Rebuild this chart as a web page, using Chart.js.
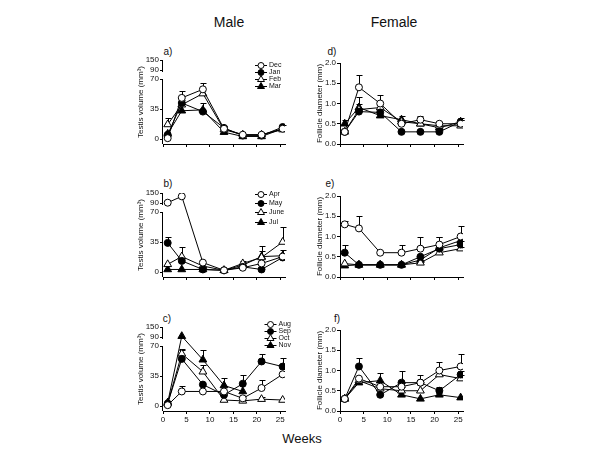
<!DOCTYPE html>
<html><head><meta charset="utf-8">
<script src="https://cdn.jsdelivr.net/npm/chart.js@4.4.0/dist/chart.umd.min.js"></script>
<style>
html,body{margin:0;padding:0;background:#fff;}
body{width:600px;height:450px;position:relative;overflow:hidden;font-family:"Liberation Sans",Arial,sans-serif;color:#111;}
canvas{position:absolute;}
.t{position:absolute;white-space:nowrap;transform:translate(-50%,-50%);}
</style></head><body>
<div class="t" style="left:229px;top:22px;font-size:14px;">Male</div>
<div class="t" style="left:394px;top:22px;font-size:14px;">Female</div>
<div class="t" style="left:302px;top:438px;font-size:13px;">Weeks</div>
<div class="t" style="left:168px;top:51px;font-size:10px;">a)</div>
<div class="t" style="left:168px;top:183px;font-size:10px;">b)</div>
<div class="t" style="left:167px;top:318px;font-size:10px;">c)</div>
<div class="t" style="left:332px;top:51px;font-size:10px;">d)</div>
<div class="t" style="left:330px;top:183px;font-size:10px;">e)</div>
<div class="t" style="left:337px;top:318px;font-size:10px;">f)</div>
<canvas id="ca" width="161" height="110" style="left:136px;top:50px"></canvas>
<canvas id="cb" width="161" height="110" style="left:136px;top:183px"></canvas>
<canvas id="cc" width="161" height="110" style="left:136px;top:317px"></canvas>
<canvas id="cd" width="160" height="107" style="left:315px;top:53px"></canvas>
<canvas id="ce" width="160" height="107" style="left:315px;top:186px"></canvas>
<canvas id="cf" width="160" height="107" style="left:315px;top:320px"></canvas>
<script>
// ---------- DATA ----------
const weeks = [1, 4, 8.5, 13, 17, 21, 25.5];
const xTicks = [0, 5, 10, 15, 20, 25];
const maleYTicks = [0, 35, 70, 90, 150];
const femaleYTicks = [0, 0.5, 1.0, 1.5, 2.0];

const labelsA = ['Dec', 'Jan', 'Feb', 'Mar'];
const labelsB = ['Apr', 'May', 'June', 'Jul'];
const labelsC = ['Aug', 'Sep', 'Oct', 'Nov'];

// a) male testis volume (mm3)
const aDec = [1, 48, 58, 12, 5, 5, 12];
const aJan = [5, 42, 32, 13, 4, 4, 14];
const aFeb = [17, 40, 53, 11, 5, 5, 11];
const aMar = [6, 33, 34, 8, 3, 3, 12];
const aDecErr = [0, 8, 7, 3, 0, 0, 0];
const aJanErr = [0, 0, 10, 0, 0, 0, 2];
const aFebErr = [7, 6, 0, 2, 0, 0, 0];
const aMarErr = [0, 0, 0, 0, 0, 0, 0];

// b)
const bApr = [92, 130, 11, 2, 5, 10, 18];
const bMay = [34, 13, 3, 2, 6, 3, 17];
const bJun = [9, 18, 7, 2, 10, 17, 35];
const bJul = [3, 3, 3, 2, 8, 18, 19];
const bAprErr = [0, 0, 0, 0, 0, 0, 8];
const bMayErr = [7, 0, 0, 0, 0, 0, 0];
const bJunErr = [0, 11, 0, 0, 3, 13, 18];
const bJulErr = [0, 0, 0, 0, 0, 7, 0];

// c)
const cAug = [1, 17, 17, 17, 9, 21, 37];
const cSep = [3, 55, 25, 13, 26, 52, 46];
const cOct = [3, 61, 40, 7, 6, 8, 7];
const cNov = [4, 95, 54, 24, 17, null, null];
const cAugErr = [0, 6, 0, 0, 3, 9, 0];
const cSepErr = [0, 10, 0, 0, 10, 9, 10];
const cOctErr = [0, 5, 8, 0, 0, 3, 0];
const cNovErr = [0, 0, 11, 9, 0, 0, 0];

// d) female follicle diameter (mm)
const dDec = [0.3, 1.4, 1.0, 0.5, 0.6, 0.5, 0.5];
const dJan = [0.3, 0.8, 0.78, 0.3, 0.3, 0.3, 0.55];
const dFeb = [0.3, 0.85, 0.9, 0.55, 0.5, 0.45, 0.45];
const dMar = [0.5, 0.9, 0.7, 0.6, 0.5, 0.4, 0.55];
const dDecErr = [0.05, 0.3, 0.2, 0.05, 0.1, 0.05, 0.1];
const dJanErr = [0, 0, 0, 0, 0, 0, 0.1];
const dFebErr = [0, 0.3, 0, 0, 0, 0.05, 0.15];
const dMarErr = [0.1, 0.1, 0.05, 0.1, 0.1, 0.05, 0];

// e)
const eApr = [1.3, 1.2, 0.6, 0.6, 0.7, 0.8, 1.0];
const eMay = [0.6, 0.3, 0.3, 0.3, 0.5, 0.7, 0.8];
const eJun = [0.33, 0.3, 0.3, 0.3, 0.35, 0.6, 0.7];
const eJul = [0.28, 0.3, 0.3, 0.3, 0.42, 0.72, 0.9];
const eAprErr = [0.08, 0.3, 0, 0.2, 0.3, 0.2, 0.25];
const eMayErr = [0.2, 0, 0, 0, 0, 0.3, 0.1];
const eJunErr = [0, 0, 0, 0, 0.03, 0.1, 0.05];
const eJulErr = [0, 0, 0, 0, 0, 0, 0];

// f)
const fAug = [0.3, 0.8, 0.6, 0.6, 0.7, 1.0, 1.1];
const fSep = [0.3, 1.1, 0.4, 0.7, 0.7, 0.5, 0.9];
const fOct = [0.3, 0.75, 0.55, 0.5, 0.5, 0.9, 0.8];
const fNov = [0.3, 0.7, 0.75, 0.4, 0.3, 0.4, 0.33];
const fAugErr = [0, 0, 0, 0.1, 0.2, 0.2, 0.3];
const fSepErr = [0, 0.2, 0, 0.3, 0, 0.1, 0.1];
const fOctErr = [0, 0, 0.1, 0.1, 0.2, 0.1, 0.1];
const fNovErr = [0, 0, 0.2, 0, 0, 0.05, 0];

// ---------- broken y scale for male panels ----------
function brokenMap(v) {
  if (v <= 70) return v;
  if (v <= 90) return 70 + (v - 70) * 10.5 / 20;
  return 80.5 + (v - 90) * 11.7 / 60;
}
const DMIN = -5.8, DMAX = brokenMap(150);
class BrokenLinearScale extends Chart.LinearScale {
  getPixelForValue(value) {
    const d = brokenMap(value);
    return this.bottom - (d - DMIN) / (DMAX - DMIN) * (this.bottom - this.top);
  }
  getValueForPixel(pixel) {
    const d = DMIN + (this.bottom - pixel) / (this.bottom - this.top) * (DMAX - DMIN);
    if (d <= 70) return d;
    if (d <= 80.5) return 70 + (d - 70) * 20 / 10.5;
    return 90 + (d - 80.5) * 60 / 11.7;
  }
}
BrokenLinearScale.id = 'brokenLinear';
BrokenLinearScale.defaults = Chart.LinearScale.defaults;
Chart.register(BrokenLinearScale);

// ---------- plugins ----------
const errorBars = {
  id: 'errorBars',
  beforeDatasetsDraw(chart) {
    const ctx = chart.ctx, xs = chart.scales.x, ys = chart.scales.y;
    ctx.save();
    ctx.strokeStyle = '#000'; ctx.lineWidth = 1;
    chart.data.datasets.forEach(ds => {
      if (!ds.err) return;
      ds.data.forEach((p, j) => {
        const e = ds.err[j];
        if (!e || p.y == null) return;
        const x = Math.round(xs.getPixelForValue(p.x)) + 0.5;
        const y0 = ys.getPixelForValue(p.y);
        const y1 = Math.round(ys.getPixelForValue(p.y + e)) + 0.5;
        ctx.beginPath();
        ctx.moveTo(x, y0); ctx.lineTo(x, y1);
        ctx.moveTo(x - 3, y1); ctx.lineTo(x + 3, y1);
        ctx.stroke();
      });
    });
    ctx.restore();
  }
};
const brokenAxis = {
  id: 'brokenAxis',
  afterDraw(chart, args, opts) {
    if (!opts.on) return;
    const ctx = chart.ctx, ys = chart.scales.y;
    const x = Math.round(chart.chartArea.left) - 0.5;
    ctx.save();
    ctx.strokeStyle = '#000'; ctx.lineWidth = 1;
    ctx.beginPath();
    ctx.moveTo(x, chart.chartArea.bottom);
    ctx.lineTo(x, ys.getPixelForValue(70));
    ctx.moveTo(x, ys.getPixelForValue(90) + 2);
    ctx.lineTo(x, ys.getPixelForValue(150));
    ctx.stroke();
    ctx.restore();
  }
};
const miniLegend = {
  id: 'miniLegend',
  afterDraw(chart, args, opts) {
    if (!opts.on) return;
    const ctx = chart.ctx;
    ctx.save();
    ctx.font = '7px "Liberation Sans", Arial, sans-serif';
    ctx.textBaseline = 'middle';
    chart.data.datasets.forEach((ds, i) => {
      const x = opts.x, y = Math.round(opts.y + i * opts.dy) + 0.5;
      ctx.strokeStyle = '#000'; ctx.lineWidth = 1;
      ctx.beginPath(); ctx.moveTo(x - 6, y); ctx.lineTo(x + 6, y); ctx.stroke();
      ctx.fillStyle = ds.pointBackgroundColor;
      Chart.helpers.drawPoint(ctx, {pointStyle: ds.pointStyle, radius: ds.pointStyle === 'triangle' ? 4 : 3, borderWidth: 1, rotation: 0}, x, y);
      ctx.fillStyle = '#111';
      ctx.fillText(ds.label, x + 8, y);
    });
    ctx.restore();
  }
};

// ---------- builders ----------
const styles = [
  {pointStyle: 'circle', pointBackgroundColor: '#fff', pointRadius: 3.5},
  {pointStyle: 'circle', pointBackgroundColor: '#000', pointRadius: 3.5},
  {pointStyle: 'triangle', pointBackgroundColor: '#fff', pointRadius: 4.5},
  {pointStyle: 'triangle', pointBackgroundColor: '#000', pointRadius: 4.5}
];
function makeDatasets(labels, series, errs) {
  return series.map((vals, i) => Object.assign({
    label: labels[i],
    data: weeks.map((w, j) => ({x: w, y: vals[j]})),
    err: errs[i],
    borderColor: '#000', borderWidth: 1,
    pointBorderColor: '#000', pointBorderWidth: 1,
    pointHoverRadius: 4, tension: 0, spanGaps: false
  }, styles[i]));
}
function makeChart(id, datasets, opt) {
  const male = opt.male;
  const yAxis = male ? {
    type: 'brokenLinear', min: DMIN, max: 150,
    afterBuildTicks: s => { s.ticks = maleYTicks.map(v => ({value: v})); },
    ticks: {autoSkip: false, font: {size: 8}, color: '#111', padding: 1, callback: v => String(v)},
    border: {display: false},
    title: {display: true, text: 'Testis volume (mm³)', font: {size: 8}, color: '#111', padding: 0}
  } : {
    type: 'linear', min: 0, max: 2,
    afterBuildTicks: s => { s.ticks = femaleYTicks.map(v => ({value: v})); },
    ticks: {autoSkip: false, font: {size: 8}, color: '#111', padding: 1, callback: v => Number(v).toFixed(1)},
    border: {display: true, color: '#000', width: 1},
    title: {display: true, text: 'Follicle diameter (mm)', font: {size: 8}, color: '#111', padding: 0}
  };
  yAxis.grid = {drawOnChartArea: false, drawTicks: true, tickLength: 3, color: '#000', tickColor: '#000'};
  yAxis.afterFit = s => { s.width = male ? 27 : 25; };
  return new Chart(document.getElementById(id), {
    type: 'line',
    data: {datasets},
    options: {
      responsive: false, maintainAspectRatio: false, animation: false, devicePixelRatio: 1,
      layout: {padding: {top: 10, right: 12, bottom: 2, left: 0}},
      scales: {
        x: {
          type: 'linear', min: 0, max: 26,
          afterBuildTicks: s => { s.ticks = xTicks.map(v => ({value: v})); },
          afterFit: s => { s.height = 14; },
          ticks: {display: opt.xLabels, autoSkip: false, font: {size: 8}, color: '#111', padding: 1, maxRotation: 0},
          grid: {drawOnChartArea: false, drawTicks: true, tickLength: 3, color: '#000', tickColor: '#000'},
          border: {display: true, color: '#000', width: 1}
        },
        y: yAxis
      },
      plugins: {
        legend: {display: false}, tooltip: {enabled: false},
        brokenAxis: {on: male},
        miniLegend: opt.legend ? Object.assign({on: true}, opt.legend) : {on: false}
      }
    },
    plugins: [errorBars, brokenAxis, miniLegend]
  });
}

makeChart('ca', makeDatasets(labelsA, [aDec, aJan, aFeb, aMar], [aDecErr, aJanErr, aFebErr, aMarErr]),
  {male: true, xLabels: false, legend: {x: 125, y: 14.5, dy: 7.2}});
makeChart('cb', makeDatasets(labelsB, [bApr, bMay, bJun, bJul], [bAprErr, bMayErr, bJunErr, bJulErr]),
  {male: true, xLabels: false, legend: {x: 125, y: 11, dy: 9.2}});
makeChart('cc', makeDatasets(labelsC, [cAug, cSep, cOct, cNov], [cAugErr, cSepErr, cOctErr, cNovErr]),
  {male: true, xLabels: true, legend: {x: 134.5, y: 6.5, dy: 7.3}});
makeChart('cd', makeDatasets(labelsA, [dDec, dJan, dFeb, dMar], [dDecErr, dJanErr, dFebErr, dMarErr]),
  {male: false, xLabels: false});
makeChart('ce', makeDatasets(labelsB, [eApr, eMay, eJun, eJul], [eAprErr, eMayErr, eJunErr, eJulErr]),
  {male: false, xLabels: false});
makeChart('cf', makeDatasets(labelsC, [fAug, fSep, fOct, fNov], [fAugErr, fSepErr, fOctErr, fNovErr]),
  {male: false, xLabels: true});
</script>
</body></html>
